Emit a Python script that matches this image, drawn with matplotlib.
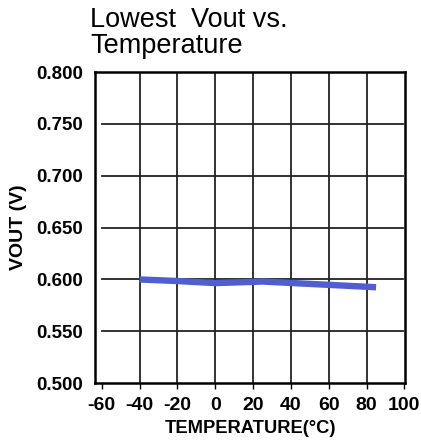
import matplotlib.pyplot as plt

plt.rcParams['font.family'] = ['Liberation Sans', 'DejaVu Sans']

temp = [-40, -20, 0, 25, 60, 85]
vout = [0.600, 0.5985, 0.5965, 0.598, 0.5948, 0.5925]
xticks = [-60, -40, -20, 0, 20, 40, 60, 80, 100]
yticks = [0.500, 0.550, 0.600, 0.650, 0.700, 0.750, 0.800]

fig = plt.figure(figsize=(4.21, 4.45), dpi=100)
ax = fig.add_axes([0.226, 0.139, 0.736, 0.699])

# grid drawn by hand so horizontal lines start at -60 like the original
for x in xticks[1:-1]:
    ax.axvline(x, color='#222222', lw=1.3, zorder=1)
for y in yticks[1:-1]:
    ax.plot([-60, 99], [y, y], color='#222222', lw=1.3, zorder=1)

ax.plot(temp, vout, color='#4f5fd0', lw=4.6, solid_capstyle='butt', zorder=3)

ax.set_xlim(-63.5, 100.3)
ax.set_ylim(0.5, 0.8)
ax.set_xticks(xticks)
ax.set_xticklabels([str(t) for t in xticks])
ax.set_yticks(yticks)
ax.set_yticklabels([f'{t:.3f}' for t in yticks])
for s in ax.spines.values():
    s.set_linewidth(1.8)
ax.tick_params(axis='x', direction='out', length=4, width=1, labelsize=14, pad=6)
ax.tick_params(axis='y', length=0, labelsize=13.5, pad=9)
for lab in ax.get_xticklabels() + ax.get_yticklabels():
    lab.set_fontweight('bold')

ax.set_xlabel('TEMPERATURE(°C)', fontsize=13.2, fontweight='bold', labelpad=4)
ax.set_ylabel('VOUT (V)', fontsize=14, fontweight='bold', labelpad=6)
fig.text(0.214, 0.939, 'Lowest  Vout vs.', fontsize=19.5, ha='left', va='baseline')
fig.text(0.214, 0.881, 'Temperature', fontsize=19.5, ha='left', va='baseline')

fig.savefig('out.png', dpi=100)
